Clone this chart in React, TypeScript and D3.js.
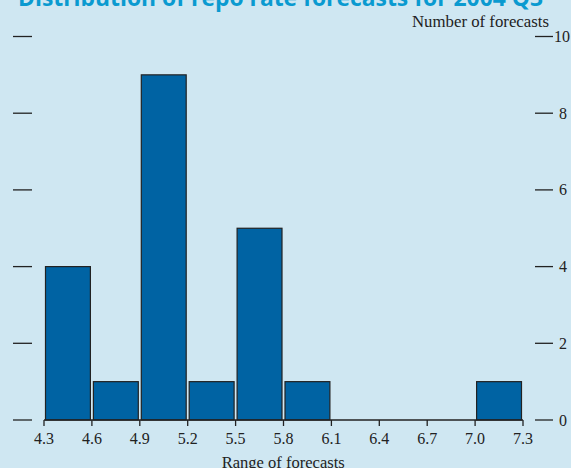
import React from "react";
import * as d3 from "d3";

const binStarts = [4.3, 4.6, 4.9, 5.2, 5.5, 5.8, 6.1, 6.4, 6.7, 7.0];
const counts = [4, 1, 9, 1, 5, 1, 0, 0, 0, 1];
const xTicks = [4.3, 4.6, 4.9, 5.2, 5.5, 5.8, 6.1, 6.4, 6.7, 7.0, 7.3];
const yTicks = [0, 2, 4, 6, 8, 10];
const binWidth = 0.3;

const W = 571;
const H = 468;
const BG = "#cfe7f2";
const BAR = "#0063a3";
const INK = "#222";
const SERIF = "'Liberation Serif', 'DejaVu Serif', serif";
const FS = 16;

export default function App() {
  const x = d3.scaleLinear().domain([4.3, 7.3]).range([44, 523]);
  const y = d3.scaleLinear().domain([0, 10]).range([420, 36.5]);

  return (
    <svg width={W} height={H} style={{ position: "absolute", left: 0, top: 0, display: "block" }}>
      <rect x={0} y={0} width={W} height={H} fill={BG} />
      <text x={18} y={6} fill="#0a9ad0" fontFamily="'Open Sans', 'DejaVu Sans', sans-serif" fontWeight="bold" fontSize={23} textLength={525} lengthAdjust="spacingAndGlyphs">
        Distribution of repo rate forecasts for 2004 Q3
      </text>
      <text x={412} y={27.3} fontFamily={SERIF} fontSize={FS} fill={INK} textLength={137} lengthAdjust="spacingAndGlyphs">
        Number of forecasts
      </text>
      {yTicks.map((t) => (
        <g key={t}>
          <line x1={13} x2={32} y1={y(t)} y2={y(t)} stroke={INK} strokeWidth={1.3} />
          <line x1={535} x2={553} y1={y(t)} y2={y(t)} stroke={INK} strokeWidth={1.3} />
          <text x={t === 10 ? 554 : 559} y={y(t) + 5.5} fontFamily={SERIF} fontSize={FS} fill={INK}>
            {t}
          </text>
        </g>
      ))}
      {binStarts.map((b, i) =>
        counts[i] > 0 ? (
          <rect
            key={b}
            x={x(b) + 1.5}
            y={y(counts[i])}
            width={x(b + binWidth) - x(b) - 3}
            height={y(0) - y(counts[i])}
            fill={BAR}
            stroke={INK}
            strokeWidth={1.2}
          />
        ) : null
      )}
      <line x1={x(4.3)} x2={x(7.3)} y1={y(0)} y2={y(0)} stroke={INK} strokeWidth={1.3} />
      {xTicks.map((t) => (
        <g key={t}>
          <line x1={x(t)} x2={x(t)} y1={y(0)} y2={y(0) + 6} stroke={INK} strokeWidth={1.3} />
          <text x={x(t)} y={444.3} textAnchor="middle" fontFamily={SERIF} fontSize={FS} fill={INK}>
            {t.toFixed(1)}
          </text>
        </g>
      ))}
      <text x={221.7} y={467.8} fontFamily={SERIF} fontSize={FS} fill={INK} textLength={123} lengthAdjust="spacingAndGlyphs">
        Range of forecasts
      </text>
    </svg>
  );
}
